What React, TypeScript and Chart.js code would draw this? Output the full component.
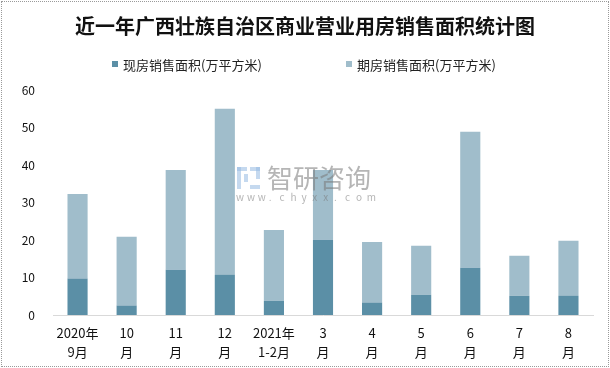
import React, { useEffect, useRef } from "react";
import { Chart, registerables } from "chart.js";

Chart.register(...registerables);

const TITLE = "近一年广西壮族自治区商业营业用房销售面积统计图";
const categories: string[][] = [
  ["2020年", "9月"],
  ["10", "月"],
  ["11", "月"],
  ["12", "月"],
  ["2021年", "1-2月"],
  ["3", "月"],
  ["4", "月"],
  ["5", "月"],
  ["6", "月"],
  ["7", "月"],
  ["8", "月"],
];
const seriesNames = ["现房销售面积(万平方米)", "期房销售面积(万平方米)"];
const existingArea = [9.7, 2.5, 12.1, 10.7, 3.8, 20.1, 3.3, 5.4, 12.6, 5.1, 5.1];
const forwardArea = [22.6, 18.4, 26.6, 44.3, 18.9, 18.6, 16.2, 13.1, 36.3, 10.7, 14.7];
const yTicks = { min: 0, max: 60, step: 10 };

const DARK = "#5b8fa6";
const LIGHT = "#a0bdcb";
const FONT = "'Noto Sans CJK SC', 'Noto Sans', sans-serif";
const colors = [DARK, LIGHT];

const watermark = {
  id: "watermark",
  afterDatasetsDraw(chart: any) {
    const ctx = chart.ctx;
    ctx.save();
    ctx.fillStyle = "rgba(150,185,225,0.55)";
    ctx.fillRect(237, 167, 10, 4);
    ctx.fillRect(237, 167, 4, 22);
    ctx.fillRect(244, 174, 4, 8);
    ctx.fillRect(250, 167, 10, 4);
    ctx.fillRect(256, 167, 4, 12);
    ctx.fillRect(250, 185, 10, 4);
    ctx.fillStyle = "rgba(120,120,120,0.55)";
    ctx.font = `26px ${FONT}`;
    ctx.textBaseline = "middle";
    ctx.textAlign = "left";
    ctx.fillText("智研咨询", 267, 178);
    ctx.font = `10px ${FONT}`;
    let x = 236;
    for (const ch of "www.chyxx.com") {
      ctx.fillText(ch, x, 197);
      x += 10.9;
    }
    ctx.restore();
  },
};

export default function App() {
  const ref = useRef<HTMLCanvasElement>(null);
  useEffect(() => {
    document.body.style.margin = "0";
    const chart = new Chart(ref.current!, {
      type: "bar",
      data: {
        labels: categories,
        datasets: [
          { label: seriesNames[0], data: existingArea, backgroundColor: DARK },
          { label: seriesNames[1], data: forwardArea, backgroundColor: LIGHT },
        ],
      },
      options: {
        animation: false,
        responsive: false,
        maintainAspectRatio: false,
        layout: { padding: { left: 20, right: 17, top: 90, bottom: 5 } },
        datasets: { bar: { categoryPercentage: 1, barPercentage: 0.41 } } as any,
        plugins: {
          title: { display: false },
          legend: { display: false },
          tooltip: { enabled: false },
        },
        scales: {
          x: {
            stacked: true,
            grid: { display: false, drawTicks: false },
            border: { display: true, color: "#d9d9d9" },
            ticks: {
              color: "#111",
              font: { family: FONT, size: 13, lineHeight: 1.5 },
              padding: 8,
              maxRotation: 0,
              autoSkip: false,
            },
            afterFit(scale: any) {
              scale.height = 48;
              scale.paddingLeft = 0;
              scale.paddingRight = 0;
            },
          },
          y: {
            stacked: true,
            min: yTicks.min,
            max: yTicks.max,
            grid: { display: false, drawTicks: false },
            border: { display: false },
            ticks: {
              stepSize: yTicks.step,
              color: "#111",
              padding: 18,
              font: { family: FONT, size: 12 },
            },
            afterFit(scale: any) {
              scale.width = 33;
              scale.paddingTop = 0;
              scale.paddingBottom = 0;
            },
          },
        },
      },
      plugins: [watermark],
    });
    return () => chart.destroy();
  }, []);
  return (
    <div style={{ position: "relative", width: 610, height: 368, fontFamily: FONT }}>
      <canvas ref={ref} width={610} height={368} style={{ position: "absolute", left: 0, top: 0 }} />
      <div
        style={{
          position: "absolute",
          left: 0,
          top: 12,
          width: 610,
          textAlign: "center",
          fontSize: 20,
          fontWeight: "bold",
          lineHeight: "28px",
          color: "#111",
        }}
      >
        {TITLE}
      </div>
      {seriesNames.map((name, i) => (
        <div
          key={name}
          style={{
            position: "absolute",
            left: i === 0 ? 112 : 346,
            top: 55,
            height: 18,
            display: "flex",
            alignItems: "center",
            fontSize: 13,
            color: "#222",
            whiteSpace: "nowrap",
          }}
        >
          <span style={{ display: "inline-block", width: 6, height: 6, background: colors[i], marginRight: 5 }} />
          {name}
        </div>
      ))}
      <div
        style={{
          position: "absolute",
          left: 1,
          top: 1,
          width: 606,
          height: 364,
          border: "1px dotted #9a9a9a",
          pointerEvents: "none",
        }}
      />
    </div>
  );
}
